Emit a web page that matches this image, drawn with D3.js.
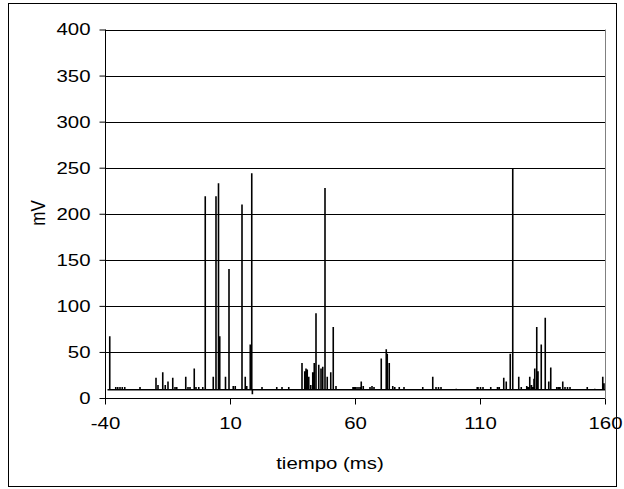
<!DOCTYPE html>
<html><head><meta charset="utf-8">
<script src="https://cdn.jsdelivr.net/npm/d3@7"></script>
<style>
html,body{margin:0;padding:0;background:#fff;}
text{font-family:"Liberation Sans",Arial,sans-serif;fill:#000;}
</style></head>
<body>
<svg id="chart" width="624" height="489"></svg>
<script>
// ---- data ----
const xTicks = [-40, 10, 60, 110, 160];
const yTicks = [0, 50, 100, 150, 200, 250, 300, 350, 400];
const baselineValue = 9;
const baselineStart = -39;
const baselineEnd = 160;
const spikeTimes = [
  -38.1, -35.7, -34.9, -34, -33.1, -32.1, -26, -19.6, -18.8, -16.9, -15.9, -14.8, -12.9, -12, -11.3,
  -7.7, -6.8, -6, -4.3, -3.6, -2.5, -0.9, 0.1, 3.3, 4.4, 5.4, 5.9, 8.2, 9.6, 11.3, 12.1,
  14.8, 16.1, 16.7, 18.1, 18.7, 18.95, 22.8, 28.7, 30.8, 33.5,
  38.8, 39.9, 40.4, 40.9, 41.5, 42.3, 43.1, 43.7, 44.4, 45.5, 46.4, 47.1, 48.0, 48.9, 50.3, 51.3, 52.4,
  59.2, 59.8, 60.4, 61.2, 62.0, 62.5, 63.3, 66.0, 66.8, 67.6, 70.5, 72.5, 72.9, 73.7, 75.1, 75.9, 77.7, 79.6,
  87.1, 91.1, 92.4, 93.4, 94.4, 100.5, 108.9,
  109.2, 110.2, 111.2, 114.3, 117.0, 117.7, 119.5, 120.5, 122.1, 123.1, 125.5, 126.5,
  128.7, 129.3, 129.9, 130.6, 131.2, 131.6, 131.9, 132.7, 133.2, 134.5, 136.1, 137.5, 138.3,
  140.7, 141.4, 142.0, 143.1, 144.0, 145.0, 146.0, 152.9, 155.9, 159.1, 159.6
];
const spikeValues = [
  67, 12, 12, 12, 12, 12, 12, 22, 14, 28, 14, 18, 22, 12, 12,
  23, 12, 12, 32, 12, 12, 12, 219, 23, 219, 233, 67, 23, 140, 13, 13,
  210, 23, 13, 58, 244, 4, 12, 12, 12, 12,
  38, 29, 32, 31, 23, 14, 28, 38, 92, 36, 32, 34, 228, 23, 28, 77, 13,
  12, 12, 12, 12, 12, 18, 13, 12, 13, 12, 43, 53, 48, 38, 13, 12, 12, 12,
  12, 23, 12, 12, 12, 10, 12,
  12, 12, 12, 12, 12, 12, 22, 18, 48, 249, 23, 12,
  13, 12, 23, 14, 12, 21, 32, 77, 29, 58, 87, 18, 33,
  12, 12, 12, 18, 12, 12, 12, 12, 10, 23, 16
];

// ---- layout ----
const svg = d3.select("#chart");
const m = {left: 105, right: 605, top: 29.5, bottom: 398};
const FS = 17, SX = 1.2;

svg.append("rect").attr("x", 8.5).attr("y", 3.5).attr("width", 608).attr("height", 483)
  .attr("fill", "#fff").attr("stroke", "#000").attr("stroke-width", 1);

const x = d3.scaleLinear().domain([-40, 160]).range([m.left, m.right]);
const y = d3.scaleLinear().domain([0, 400]).range([m.bottom, m.top]);

// gridlines
svg.append("g").selectAll("line").data(yTicks.filter(d => d > 0)).join("line")
  .attr("x1", m.left).attr("x2", m.right)
  .attr("y1", d => Math.round(y(d)) + 0.5).attr("y2", d => Math.round(y(d)) + 0.5)
  .attr("stroke", "#000").attr("stroke-width", 1);

// right border of plot
svg.append("line").attr("x1", m.right + 0.5).attr("x2", m.right + 0.5)
  .attr("y1", m.top).attr("y2", m.bottom).attr("stroke", "#808080").attr("stroke-width", 1);

// data line
const pts = [[baselineStart, baselineValue]];
spikeTimes.forEach((t, i) => {
  pts.push([t, baselineValue]);
  pts.push([t, spikeValues[i]]);
  pts.push([t, baselineValue]);
});
pts.push([baselineEnd, baselineValue]);
const line = d3.line().x(d => x(d[0])).y(d => y(d[1]));
svg.append("path").attr("d", line(pts)).attr("fill", "none")
  .attr("stroke", "#000").attr("stroke-width", 1.6);

// axes
const fmt = d => String(d);
const yAxis = d3.axisLeft(y).tickValues(yTicks).tickSize(6).tickPadding(9).tickFormat(fmt);
const gy = svg.append("g").attr("transform", `translate(${m.left + 0.5},0)`).call(yAxis);
const xAxis = d3.axisBottom(x).tickValues(xTicks).tickSize(6).tickPadding(12).tickFormat(fmt);
const gx = svg.append("g").attr("transform", `translate(0,${m.bottom + 0.5})`).call(xAxis);
[gy, gx].forEach(g => {
  g.select(".domain").attr("stroke", "#000").attr("stroke-width", 1);
  g.selectAll(".tick line").attr("stroke", "#000");
  g.selectAll("text").attr("font-size", FS).attr("font-family", "Liberation Sans, Arial, sans-serif");
});
gy.selectAll(".tick text").attr("x", -15 / SX).attr("transform", `scale(${SX},1)`);
gx.selectAll(".tick text").attr("transform", `scale(${SX},1)`);
gy.select(".domain").attr("d", `M0,${m.top}V${m.bottom}`);
gx.select(".domain").attr("d", `M${m.left},0H${m.right}`);

// axis titles
svg.append("text").attr("transform", `translate(45,213) rotate(-90) scale(1,${SX})`)
  .attr("text-anchor", "middle").attr("font-size", FS).text("mV");
svg.append("text").attr("transform", `translate(330,469) scale(${SX},1)`)
  .attr("text-anchor", "middle").attr("font-size", FS).text("tiempo (ms)");
</script>
</body></html>
